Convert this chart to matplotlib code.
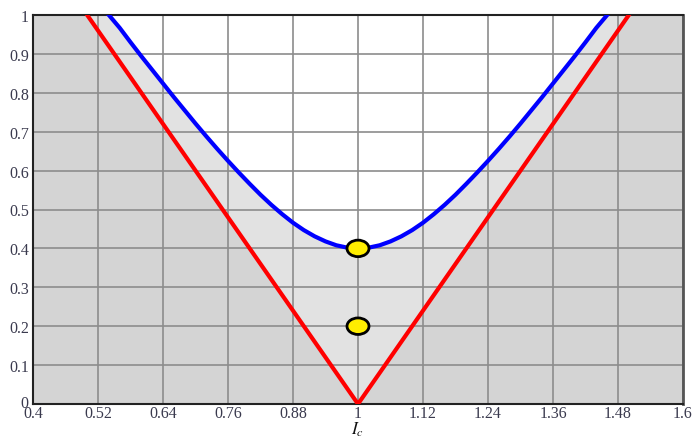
import matplotlib
matplotlib.use("Agg")
import matplotlib.pyplot as plt
import matplotlib.transforms as mtransforms
from matplotlib.patches import Ellipse

plt.rcParams["mathtext.fontset"] = "stix"

# data
x_ticks = [0.4, 0.52, 0.64, 0.76, 0.88, 1.0, 1.12, 1.24, 1.36, 1.48, 1.6]
x_tick_labels = ["0.4", "0.52", "0.64", "0.76", "0.88", "1", "1.12", "1.24", "1.36", "1.48", "1.6"]
y_ticks = [0, 0.1, 0.2, 0.3, 0.4, 0.5, 0.6, 0.7, 0.8, 0.9, 1.0]
y_tick_labels = ["0", "0.1", "0.2", "0.3", "0.4", "0.5", "0.6", "0.7", "0.8", "0.9", "1"]

red_x = [0.5, 1.0, 1.5]
red_y = [1.0, 0.0, 1.0]

blue_x = [0.54, 0.56, 0.58, 0.60, 0.62, 0.64, 0.66, 0.68, 0.70, 0.72, 0.74, 0.76,
          0.78, 0.80, 0.82, 0.84, 0.86, 0.88, 0.90, 0.92, 0.94, 0.96, 0.98, 1.00,
          1.02, 1.04, 1.06, 1.08, 1.10, 1.12, 1.14, 1.16, 1.18, 1.20, 1.22, 1.24,
          1.26, 1.28, 1.30, 1.32, 1.34, 1.36, 1.38, 1.40, 1.42, 1.44, 1.46]
blue_y = [1.000, 0.967, 0.930, 0.894, 0.859, 0.824, 0.789, 0.755, 0.721, 0.688, 0.656, 0.625,
          0.595, 0.566, 0.538, 0.512, 0.488, 0.466, 0.447, 0.431, 0.418, 0.408, 0.402, 0.400,
          0.402, 0.408, 0.418, 0.431, 0.447, 0.466, 0.488, 0.512, 0.538, 0.566, 0.595, 0.625,
          0.656, 0.688, 0.721, 0.755, 0.789, 0.824, 0.859, 0.894, 0.930, 0.967, 1.000]

pts_x = [1.0, 1.0]
pts_y = [0.4, 0.2]

fig = plt.figure(figsize=(6.98, 4.39), dpi=100)
ax = fig.add_axes([33/698, 34/439, 650/698, 389/439])
ax.set_facecolor("#d4d4d4")
ax.set_xlim(0.4, 1.6)
ax.set_ylim(0, 1)

# light gray region above red V
ax.fill(red_x + [red_x[-1], red_x[0]], red_y + [1.0, 1.0], color="#e2e2e2", zorder=1, lw=0)
# white region above blue curve
ax.fill(blue_x, blue_y, color="white", zorder=1.1, lw=0)

ax.set_xticks(x_ticks)
ax.set_yticks(y_ticks)
ax.grid(True, color="#8c8c8c", linewidth=1.2)
for gl in ax.get_xgridlines() + ax.get_ygridlines():
    gl.set_zorder(1.5)

ax.plot(red_x, red_y, color="#ff0000", lw=3.0, zorder=3, solid_joinstyle="miter")
ax.plot(blue_x, blue_y, color="#0000ff", lw=3.0, zorder=3, solid_joinstyle="round")

for px, py in zip(pts_x, pts_y):
    e = Ellipse((px, py), width=22/541.7, height=16.5/389, facecolor="#ffee00",
                edgecolor="black", lw=2.0, zorder=4)
    ax.add_patch(e)

tick_color = "#3a3a4e"
ax.set_xticklabels(x_tick_labels, family="Liberation Serif", fontsize=11.5, color=tick_color)
ax.set_yticklabels(y_tick_labels, family="Liberation Serif", fontsize=11.5, color=tick_color)
ax.tick_params(axis="both", length=0)
ax.tick_params(axis="x", pad=0.5)
ax.tick_params(axis="y", pad=3)

# lift the "0" label of the y axis a little so it does not sit on "0.4"
lab0 = ax.get_yticklabels()[0]
lab0.set_transform(lab0.get_transform() + mtransforms.ScaledTranslation(0, 3/100, fig.dpi_scale_trans))

for sp in ["left", "bottom", "top"]:
    ax.spines[sp].set_color("#222222")
    ax.spines[sp].set_linewidth(1.5)
ax.spines["right"].set_color("#555555")
ax.spines["right"].set_linewidth(2.0)

fig.text(358/698, 0.0, r"$I_c$", fontsize=12.5,
         color="#111111", ha="center", va="bottom")

fig.savefig("out.png", dpi=100)
